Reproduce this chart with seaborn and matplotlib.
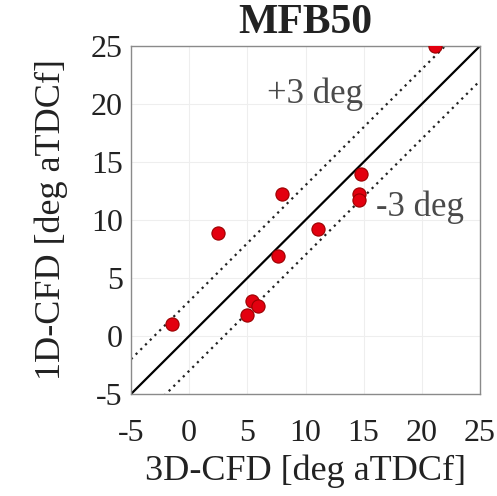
import matplotlib
matplotlib.use("Agg")
import matplotlib.pyplot as plt
import seaborn as sns
import numpy as np
import pandas as pd

# MFB50 crank angle: 3D-CFD vs 1D-CFD
cfd3d = [-1.5, 2.5, 8.0, 7.6, 11.1, 14.8, 14.6, 14.6, 5.4, 5.95, 5.0, 21.1]
cfd1d = [1.0, 8.9, 12.2, 6.9, 9.2, 14.0, 12.2, 11.7, 3.0, 2.6, 1.8, 25.0]
ticks = [-5, 0, 5, 10, 15, 20, 25]
band = 3

sns.set_theme(style="whitegrid")
plt.rcParams['font.family'] = ['Liberation Serif', 'DejaVu Serif']

fig = plt.figure(figsize=(4.97, 4.96), dpi=100)
ax = fig.add_axes([0.2636, 0.2056, 0.7022, 0.7017])

df = pd.DataFrame({"x": cfd3d, "y": cfd1d})

ref = np.array([ticks[0], ticks[-1]])
ax.plot(ref, ref, color="black", lw=1.6, zorder=2)
ax.plot(ref, ref + band, color="#222222", lw=1.6, ls=(0, (1, 2)), zorder=2)
ax.plot(ref, ref - band, color="#222222", lw=1.6, ls=(0, (1, 2)), zorder=2)

sns.scatterplot(data=df, x="x", y="y", ax=ax, s=90, color="#e3000f",
                edgecolor="#9a0000", linewidth=0.8, zorder=3, clip_on=True)

ax.text(10.8, 20.8, "+3 deg", fontsize=25, color="#4a4a4a",
        ha="center", va="center")
ax.text(19.8, 11.1, "-3 deg", fontsize=25, color="#4a4a4a",
        ha="center", va="center")

ax.set_xlim(ticks[0], ticks[-1])
ax.set_ylim(ticks[0], ticks[-1])
ax.set_xticks(ticks)
ax.set_yticks(ticks)
ax.set_xticklabels([str(t) for t in ticks])
ax.set_yticklabels([str(t) for t in ticks])
ax.tick_params(axis="both", labelsize=23, colors="#222222", length=0)
ax.tick_params(axis="x", pad=18)
ax.tick_params(axis="y", pad=6)
ax.grid(True, color="#eeeeee", lw=0.8)
ax.set_facecolor("white")
for s in ax.spines.values():
    s.set_visible(True)
    s.set_color("#8a8a8a")
    s.set_linewidth(1.0)

ax.set_xlabel("3D-CFD [deg aTDCf]", fontsize=26, color="#222222", labelpad=5)
ax.set_ylabel("1D-CFD [deg aTDCf]", fontsize=26, color="#222222", labelpad=16)
ax.set_title("MFB50", fontsize=30, fontweight="bold", color="#222222", pad=9)

fig.savefig("out.png", dpi=100, facecolor="white")
